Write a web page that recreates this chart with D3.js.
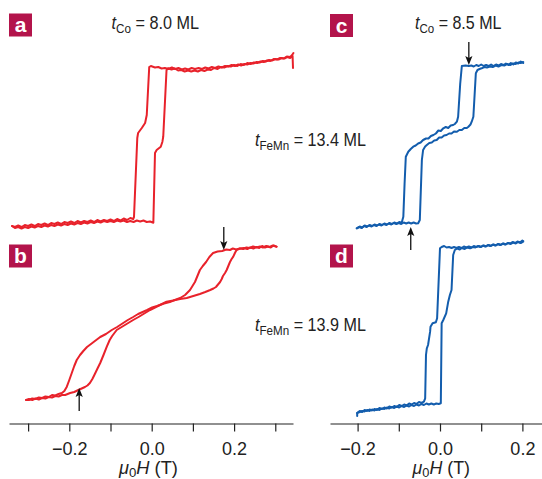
<!DOCTYPE html>
<html><head><meta charset="utf-8">
<script src="https://cdn.jsdelivr.net/npm/d3@7"></script>
<style>body{margin:0;background:#fff}svg{display:block}</style>
</head><body><svg id="c" width="542" height="479"></svg>
<script>
// ---------- data: [mu0H (T), M (arb. units)] ----------
const panelA_descending = [[0.343,76],[0.342,88],[0.336,86],[0.329,87],[0.322,85.5],[0.315,86],[0.308,84.5],[0.300,85],[0.292,83.5],[0.285,84],[0.277,82.5],[0.270,83],[0.262,81.5],[0.255,82],[0.247,80.5],[0.240,81],[0.232,79.5],[0.225,80],[0.217,78.5],[0.210,79.5],[0.202,78],[0.194,79],[0.186,77.5],[0.178,78],[0.170,76.5],[0.162,77.5],[0.154,76],[0.146,77],[0.138,75.5],[0.130,76.5],[0.122,75],[0.114,76],[0.105,75],[0.097,76],[0.089,74.5],[0.081,75.5],[0.073,74.5],[0.065,76],[0.057,75],[0.049,76.5],[0.041,75],[0.032,76],[0.024,75.5],[0.016,77],[0.008,76.5],[-0.002,78],[-0.006,77],[-0.012,29],[-0.016,21],[-0.024,16],[-0.033,11],[-0.035,6],[-0.043,-73],[-0.045,-75],[-0.052,-74],[-0.060,-76],[-0.068,-74.5],[-0.076,-76.5],[-0.084,-75],[-0.092,-77],[-0.100,-75.5],[-0.108,-77],[-0.116,-76],[-0.124,-77.5],[-0.132,-76],[-0.140,-78],[-0.148,-76.5],[-0.156,-78],[-0.164,-77],[-0.172,-78.5],[-0.180,-77],[-0.188,-79],[-0.196,-77.5],[-0.204,-79],[-0.212,-78],[-0.220,-80],[-0.228,-78.5],[-0.236,-80],[-0.244,-79],[-0.252,-81],[-0.260,-79.5],[-0.268,-81],[-0.276,-80],[-0.284,-82],[-0.292,-80.5],[-0.300,-82],[-0.308,-81],[-0.316,-83],[-0.324,-81.5],[-0.332,-83],[-0.339,-82]];
const panelA_ascending = [[-0.339,-82],[-0.332,-84],[-0.324,-83],[-0.316,-84.5],[-0.308,-83],[-0.300,-84],[-0.292,-82.5],[-0.284,-83.5],[-0.276,-82],[-0.268,-83],[-0.260,-81.5],[-0.252,-82.5],[-0.244,-81],[-0.236,-82],[-0.228,-80.5],[-0.220,-81.5],[-0.212,-80],[-0.204,-81],[-0.196,-79.5],[-0.188,-80.5],[-0.180,-79],[-0.172,-80],[-0.164,-78.5],[-0.156,-79.5],[-0.148,-78],[-0.140,-79],[-0.132,-77.5],[-0.124,-78.5],[-0.116,-77],[-0.108,-78],[-0.100,-77],[-0.092,-78],[-0.084,-76.5],[-0.076,-77.5],[-0.068,-76.5],[-0.060,-78],[-0.052,-77],[-0.044,-78],[-0.036,-76.5],[-0.028,-77.5],[-0.020,-76.5],[-0.012,-78],[-0.004,-77.5],[0.004,-78.7],[0.008,-9],[0.012,-6],[0.022,-2.7],[0.026,2.3],[0.028,7.3],[0.036,74],[0.040,75.7],[0.048,74.5],[0.056,75.5],[0.064,73.5],[0.072,74],[0.080,72.5],[0.088,73.5],[0.096,72.5],[0.104,73.5],[0.112,72.5],[0.120,74],[0.128,73],[0.136,74.5],[0.144,74],[0.152,76],[0.160,75],[0.168,77],[0.176,76.5],[0.184,78],[0.192,77.5],[0.200,79],[0.208,78],[0.216,80],[0.224,79],[0.232,81],[0.240,80],[0.248,81.5],[0.256,81],[0.264,82.5],[0.272,82],[0.280,83.5],[0.288,83],[0.296,85],[0.304,84.5],[0.312,86],[0.320,85.5],[0.328,87.5],[0.336,87],[0.341,89],[0.344,91]];

const panelB_descending = [[0.303,80.3],[0.296,81.5],[0.289,79.5],[0.282,80.5],[0.275,79.5],[0.268,81],[0.261,79],[0.254,80],[0.247,78.5],[0.239,79.5],[0.232,78],[0.224,79],[0.214,78.5],[0.205,77.5],[0.197,78.5],[0.190,77],[0.181,77.5],[0.171,76],[0.160,75.5],[0.149,74],[0.140,70],[0.132,65],[0.124,61],[0.117,57],[0.111,51],[0.105,45],[0.099,41],[0.093,37],[0.081,32],[0.069,29],[0.056,27],[0.044,25],[0.030,23.5],[0.013,21],[0.001,19.5],[-0.011,17],[-0.022,15],[-0.033,13],[-0.045,10],[-0.058,7],[-0.071,3.5],[-0.084,0],[-0.097,-3],[-0.111,-7],[-0.125,-10],[-0.141,-15],[-0.157,-20],[-0.166,-24],[-0.174,-28],[-0.182,-33],[-0.188,-39],[-0.194,-46],[-0.200,-53],[-0.206,-59.7],[-0.212,-64],[-0.218,-66],[-0.226,-67],[-0.234,-68.5],[-0.242,-68],[-0.250,-70],[-0.258,-69.5],[-0.266,-71],[-0.274,-70.5],[-0.282,-72],[-0.290,-71.5],[-0.298,-73],[-0.305,-73]];
const panelB_ascending = [[-0.305,-73],[-0.298,-72],[-0.290,-73],[-0.282,-71.5],[-0.274,-72.5],[-0.266,-71],[-0.258,-71.5],[-0.250,-70],[-0.242,-70.5],[-0.234,-69],[-0.226,-69.5],[-0.218,-68],[-0.210,-68],[-0.198,-66],[-0.188,-65],[-0.178,-63],[-0.170,-61.5],[-0.162,-60],[-0.156,-58.5],[-0.150,-56],[-0.144,-52],[-0.138,-47],[-0.131,-41],[-0.125,-36],[-0.117,-28],[-0.109,-19.7],[-0.102,-13],[-0.096,-9],[-0.085,-3],[-0.075,-0.5],[-0.065,2],[-0.055,4.5],[-0.045,7],[-0.032,10],[-0.018,13.5],[-0.004,17],[0.008,19.5],[0.020,22],[0.036,25.3],[0.052,26.5],[0.069,28],[0.085,29],[0.101,31],[0.117,33],[0.130,35],[0.142,37],[0.150,38.5],[0.156,40],[0.161,42.5],[0.166,45],[0.170,48],[0.173,51],[0.178,54],[0.182,57],[0.186,61],[0.190,65],[0.194,68],[0.198,70.3],[0.202,74],[0.206,77],[0.214,78.5],[0.222,78],[0.230,79.5],[0.238,79],[0.246,80.5],[0.254,79.5],[0.263,80.5],[0.270,79.5],[0.278,81],[0.286,80],[0.294,81.5],[0.303,80.3]];

const panelC_descending = [[0.202,81],[0.196,82.5],[0.190,80.5],[0.184,81.5],[0.178,79.5],[0.172,81],[0.166,79],[0.160,80.5],[0.154,79],[0.148,80],[0.142,78.5],[0.136,79.5],[0.130,78],[0.124,79.5],[0.118,78],[0.112,79],[0.106,78],[0.100,79.5],[0.094,78],[0.088,79],[0.082,77.5],[0.076,78.5],[0.070,78],[0.062,78.5],[0.053,78],[0.049,60],[0.044,27.3],[0.041,22.3],[0.036,20],[0.032,19],[0.026,18.5],[0.020,16],[0.014,17],[0.008,15.7],[0.002,13],[-0.004,13.5],[-0.010,10.5],[-0.016,9],[-0.022,8],[-0.028,5.5],[-0.034,5.5],[-0.041,4],[-0.047,1.5],[-0.053,0.5],[-0.059,-1.5],[-0.065,-2.7],[-0.071,-5],[-0.077,-7.7],[-0.083,-12.7],[-0.086,-40],[-0.089,-72.7],[-0.093,-78.7],[-0.099,-78],[-0.105,-79.5],[-0.111,-78.5],[-0.117,-80],[-0.123,-79],[-0.129,-80.5],[-0.135,-79.5],[-0.141,-81],[-0.147,-80],[-0.153,-81.5],[-0.159,-80.5],[-0.165,-82],[-0.171,-81],[-0.177,-82.5],[-0.183,-81.5],[-0.189,-83.5],[-0.195,-82.5],[-0.202,-84.3]];
const panelC_ascending = [[-0.202,-84.3],[-0.196,-83],[-0.190,-84],[-0.184,-82],[-0.178,-83],[-0.172,-81.5],[-0.166,-82.5],[-0.160,-81],[-0.154,-82],[-0.148,-80.5],[-0.142,-81.5],[-0.136,-80],[-0.130,-81],[-0.124,-79.5],[-0.118,-80.5],[-0.112,-79],[-0.106,-80],[-0.100,-79],[-0.094,-80],[-0.088,-78.5],[-0.082,-79.5],[-0.076,-78.5],[-0.070,-79.5],[-0.064,-78.5],[-0.058,-79.5],[-0.053,-79.3],[-0.049,-76],[-0.044,-16],[-0.041,-6],[-0.036,-2.5],[-0.032,-1],[-0.026,1],[-0.020,1.5],[-0.014,3.5],[-0.008,4],[-0.002,6.5],[0.004,6.5],[0.010,8.5],[0.016,9],[0.022,10.5],[0.028,10.5],[0.034,12.5],[0.041,12.3],[0.047,14],[0.053,14],[0.059,16],[0.065,16],[0.069,17.3],[0.074,19.5],[0.077,22.3],[0.081,27.3],[0.087,70.7],[0.091,74],[0.096,75],[0.101,75.7],[0.108,77],[0.114,76.5],[0.121,77.5],[0.128,77],[0.135,78.5],[0.142,77.5],[0.149,79],[0.156,78.5],[0.163,80],[0.170,79],[0.177,80.5],[0.184,80],[0.190,81.5],[0.196,81],[0.202,82]];

const panelD_descending = [[0.202,85.3],[0.196,84],[0.190,85],[0.184,83.5],[0.178,84.5],[0.172,83],[0.166,84],[0.160,82.5],[0.154,83.5],[0.148,82],[0.142,83],[0.136,81.5],[0.130,82.5],[0.124,81],[0.118,82],[0.112,80.5],[0.106,81.5],[0.100,80],[0.094,81],[0.088,80],[0.082,81],[0.076,79.5],[0.070,80.5],[0.064,79.5],[0.058,80.5],[0.052,79],[0.046,80],[0.040,79],[0.034,80],[0.028,79],[0.022,80],[0.016,79.5],[0.010,81],[0.004,80],[0.000,78.7],[-0.007,8.7],[-0.010,4.7],[-0.018,3.7],[-0.023,0.3],[-0.024,-4.7],[-0.029,-18],[-0.032,-21.3],[-0.034,-28],[-0.036,-71.3],[-0.039,-74.7],[-0.045,-76],[-0.051,-75],[-0.057,-77],[-0.063,-76],[-0.069,-77.5],[-0.075,-76.5],[-0.081,-78.5],[-0.087,-77.5],[-0.093,-79],[-0.099,-78],[-0.105,-80],[-0.111,-79],[-0.117,-80.5],[-0.123,-79.5],[-0.129,-81.5],[-0.135,-80.5],[-0.141,-82],[-0.147,-81],[-0.153,-83],[-0.159,-82],[-0.165,-83.5],[-0.171,-82.5],[-0.177,-84],[-0.183,-83],[-0.189,-85],[-0.195,-84],[-0.201,-86],[-0.201,-89]];
const panelD_ascending = [[-0.201,-86],[-0.195,-85],[-0.189,-84],[-0.183,-84.5],[-0.177,-83],[-0.171,-84],[-0.165,-82.5],[-0.159,-83.5],[-0.153,-82],[-0.147,-83],[-0.141,-81.5],[-0.135,-82],[-0.129,-80.5],[-0.123,-81.5],[-0.117,-80],[-0.111,-81],[-0.105,-79.5],[-0.099,-80.5],[-0.093,-79],[-0.087,-80],[-0.081,-78.5],[-0.075,-79.5],[-0.069,-78],[-0.063,-79],[-0.057,-77.5],[-0.051,-78.5],[-0.045,-77],[-0.039,-78],[-0.033,-76.5],[-0.027,-77.5],[-0.021,-76.5],[-0.015,-77.5],[-0.009,-76.5],[-0.003,-77],[0.002,-76.3],[0.004,3.7],[0.008,7],[0.015,13.7],[0.020,25.3],[0.024,32],[0.028,37],[0.032,72],[0.036,77],[0.042,78.5],[0.048,77.5],[0.053,79],[0.060,78],[0.066,79.5],[0.073,78.7],[0.080,80],[0.086,79.5],[0.092,81],[0.098,80],[0.104,81.5],[0.110,80.5],[0.116,82],[0.122,81],[0.128,82.5],[0.134,81.5],[0.140,83],[0.146,82],[0.152,83.5],[0.158,82.5],[0.164,84],[0.170,83.5],[0.176,85],[0.182,84],[0.188,85.5],[0.194,84.5],[0.200,86.5],[0.202,86]];

// arrows: field, magnetisation at tip, direction
const arrowsB = [[0.175, 77, "down"], [-0.176, -61, "up"]];
const arrowsC = [[0.070, 79, "down"], [-0.071, -83, "up"]];

const leftTickValues = [-0.3, -0.2, -0.1, 0, 0.1, 0.2, 0.3];
const rightTickValues = [-0.2, -0.1, 0, 0.1, 0.2];
const labeledTicks = [-0.2, 0, 0.2];
const panelLetters = ["a", "b", "c", "d"];
const tCoLabels = ["8.0", "8.5"];
const tFeMnLabels = ["13.4", "13.9"];

// ---------- drawing ----------
const RED = "#e8222b", BLUE = "#135dad", BOX = "#b3144b";
const FONT = "'Liberation Sans', Arial, Helvetica, sans-serif";
const svg = d3.select("#c");
svg.append("rect").attr("width", 542).attr("height", 479).attr("fill", "#fff");

const xLeft = d3.scaleLinear().domain([-0.3464, 0.343]).range([9, 293]);
const xRight = d3.scaleLinear().domain([-0.267, 0.2476]).range([330, 542]);
const yTop = d3.scaleLinear().domain([-78, 78]).range([222, 66]);
const yBot = d3.scaleLinear().domain([-78, 78]).range([405, 249]);

function drawLoop(data, xs, ys, color) {
  const line = d3.line().x(d => xs(d[0])).y(d => ys(d[1]));
  svg.append("path").datum(data).attr("d", line)
    .attr("fill", "none").attr("stroke", color).attr("stroke-width", 2)
    .attr("stroke-linejoin", "round").attr("stroke-linecap", "round");
}
drawLoop(panelA_descending, xLeft, yTop, RED);
drawLoop(panelA_ascending, xLeft, yTop, RED);
drawLoop(panelB_descending, xLeft, yBot, RED);
drawLoop(panelB_ascending, xLeft, yBot, RED);
drawLoop(panelC_descending, xRight, yTop, BLUE);
drawLoop(panelC_ascending, xRight, yTop, BLUE);
drawLoop(panelD_descending, xRight, yBot, BLUE);
drawLoop(panelD_ascending, xRight, yBot, BLUE);

function drawArrows(list, xs, ys) {
  list.forEach(([h, m, dir]) => {
    const x = xs(h), tip = ys(m), s = dir === "down" ? 1 : -1;
    svg.append("line").attr("x1", x).attr("x2", x)
      .attr("y1", tip - s * 23).attr("y2", tip - s * 6)
      .attr("stroke", "#111").attr("stroke-width", 1.3);
    svg.append("path")
      .attr("d", `M${x},${tip} L${x - 3.6},${tip - s * 9} L${x},${tip - s * 7} L${x + 3.6},${tip - s * 9} Z`)
      .attr("fill", "#111");
  });
}
drawArrows(arrowsB, xLeft, yBot);
drawArrows(arrowsC, xRight, yTop);

// axes
function drawAxis(xs, ticks) {
  const fmt = d3.format(".1f");
  const ax = d3.axisBottom(xs).tickValues(ticks).tickSize(8).tickSizeOuter(0).tickPadding(11)
    .tickFormat(d => labeledTicks.some(v => Math.abs(v - d) < 1e-9) ? fmt(d) : "");
  const g = svg.append("g").attr("transform", "translate(0,423.5)").call(ax);
  g.select(".domain").attr("stroke", "#222").attr("stroke-width", 1.2);
  g.selectAll(".tick line").attr("stroke", "#222").attr("stroke-width", 1.2);
  g.selectAll(".tick text").attr("font-family", FONT).attr("font-size", 18).attr("fill", "#222");
}
drawAxis(xLeft, leftTickValues);
drawAxis(xRight, rightTickValues);

// rich text fitted to a horizontal span
function richText(x0, x1, baseline, parts, size, shift) {
  const t = svg.append("text").attr("font-family", FONT).attr("font-size", size).attr("fill", "#222");
  let shifted = 0;
  parts.forEach(p => {
    const ts = t.append("tspan").text(p.t);
    if (p.i) ts.attr("font-style", "italic");
    if (p.sub) { ts.attr("font-size", size * 0.72).attr("dy", shift - shifted); shifted = shift; }
    else if (shifted) { ts.attr("dy", -shifted); shifted = 0; }
  });
  const bb = t.node().getBBox();
  const s = (x1 - x0) / bb.width;
  t.attr("transform", `translate(${x0},${baseline}) scale(${s},1) translate(${-bb.x},0)`);
}
richText(111.5, 199, 28.5, [{t: "t", i: 1}, {t: "Co", sub: 1}, {t: " = " + tCoLabels[0] + " ML"}], 18, 4);
richText(415, 501.5, 28.5, [{t: "t", i: 1}, {t: "Co", sub: 1}, {t: " = " + tCoLabels[1] + " ML"}], 18, 4);
richText(255, 366, 146, [{t: "t", i: 1}, {t: "FeMn", sub: 1}, {t: " = " + tFeMnLabels[0] + " ML"}], 18, 4);
richText(255, 366, 331, [{t: "t", i: 1}, {t: "FeMn", sub: 1}, {t: " = " + tFeMnLabels[1] + " ML"}], 18, 4);
richText(118, 178, 473.5, [{t: "μ", i: 1}, {t: "0", sub: 1}, {t: "H", i: 1}, {t: " (T)"}], 18, 3);
richText(411.5, 470, 473.5, [{t: "μ", i: 1}, {t: "0", sub: 1}, {t: "H", i: 1}, {t: " (T)"}], 18, 3);

// panel letters
const boxPos = [[9, 13.5], [9, 244.5], [330, 14], [330, 244.5]];
panelLetters.forEach((L, i) => {
  const [bx, by] = boxPos[i];
  svg.append("rect").attr("x", bx).attr("y", by).attr("width", 23).attr("height", 23).attr("fill", BOX);
  svg.append("text").attr("x", bx + 11.5).attr("y", by + 18.5).attr("text-anchor", "middle")
    .attr("font-family", FONT).attr("font-weight", "bold").attr("font-size", 21)
    .attr("fill", "#fff").text(L);
});
</script></body></html>
